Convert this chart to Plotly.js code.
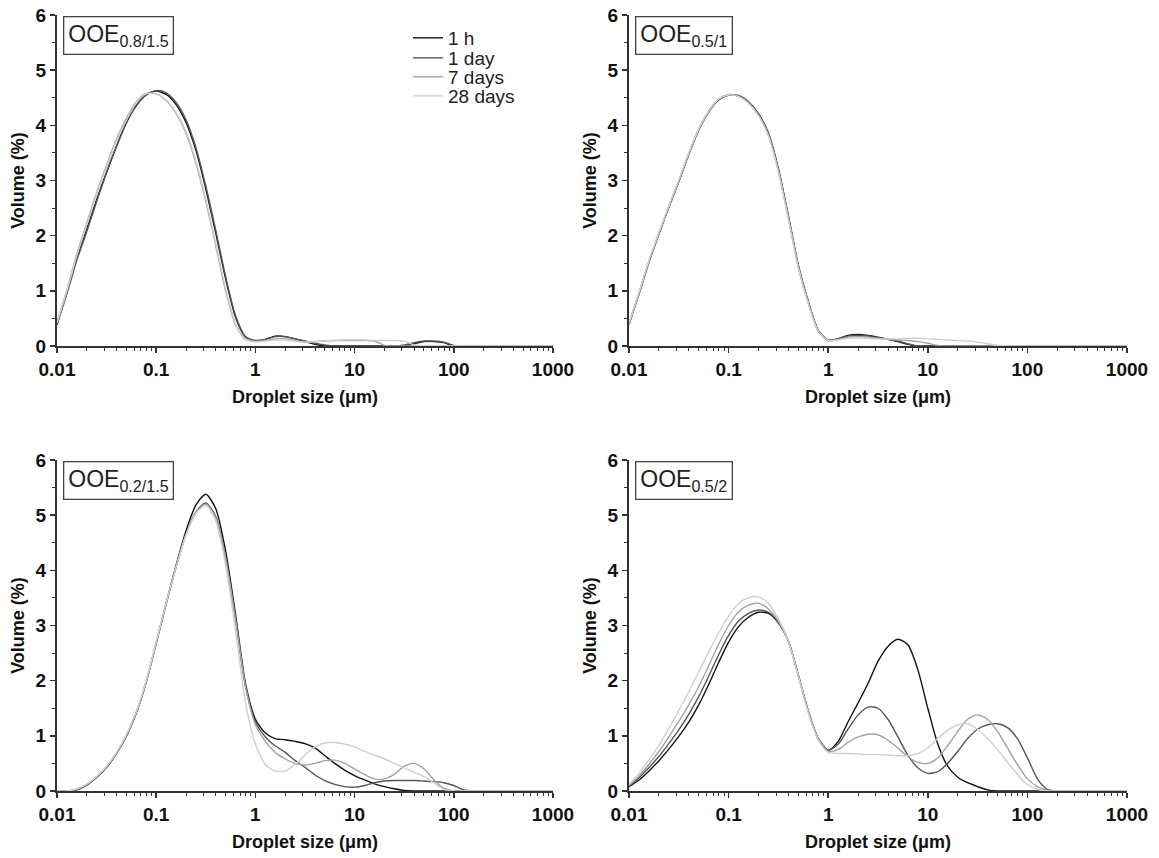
<!DOCTYPE html>
<html>
<head>
<meta charset="utf-8">
<script src="https://cdn.plot.ly/plotly-3.0.1.min.js"></script>
<style>
  html, body { margin: 0; padding: 0; background: #ffffff; }
  #chart { width: 1159px; height: 858px; }
</style>
</head>
<body>
<div id="chart"></div>
<script>
// Droplet size classes (µm), log-spaced
const sizes = [
  0.01, 0.0126, 0.0158, 0.02, 0.0251, 0.0316, 0.0398, 0.0501, 0.0631, 0.0794,
  0.1, 0.126, 0.158, 0.2, 0.251, 0.316, 0.398, 0.501, 0.631, 0.794,
  1, 1.26, 1.58, 2, 2.51, 3.16, 3.98, 5.01, 6.31, 7.94,
  10, 12.6, 15.8, 20, 25.1, 31.6, 39.8, 50.1, 63.1, 79.4,
  100, 126, 158, 200, 251, 316, 398, 501, 631, 794, 1000
];

const seriesNames = ['1 h', '1 day', '7 days', '28 days'];
const panelNames = ['OOE', 'OOE', 'OOE', 'OOE'];
const panelSubs = ['0.8/1.5', '0.5/1', '0.2/1.5', '0.5/2'];

const xTickVals = [0.01, 0.1, 1, 10, 100, 1000];
const xTickText = ['0.01', '0.1', '1', '10', '100', '1000'];
const yTickVals = [0, 1, 2, 3, 4, 5, 6];

// Panel 1: OOE 0.8/1.5  (Volume %)
const p1_1h = [
  0.40, 0.98, 1.58, 2.12, 2.65, 3.15, 3.62, 4.05, 4.36, 4.55,
  4.62, 4.56, 4.38, 4.05, 3.55, 2.85, 2.05, 1.22, 0.52, 0.16,
  0.09, 0.12, 0.18, 0.17, 0.13, 0.08, 0.03, 0, 0, 0,
  0, 0, 0, 0, 0, 0, 0.04, 0.08, 0.08, 0.06,
  0, 0, 0, 0, 0, 0, 0, 0, 0, 0, 0
];
const p1_1d = [
  0.38, 0.95, 1.55, 2.08, 2.62, 3.14, 3.62, 4.06, 4.37, 4.56,
  4.63, 4.59, 4.42, 4.10, 3.60, 2.90, 2.10, 1.26, 0.55, 0.17,
  0.10, 0.12, 0.17, 0.17, 0.13, 0.09, 0.05, 0.02, 0, 0,
  0, 0, 0, 0, 0, 0.02, 0.06, 0.09, 0.09, 0.07,
  0.01, 0, 0, 0, 0, 0, 0, 0, 0, 0, 0
];
const p1_7d = [
  0.42, 1.02, 1.66, 2.24, 2.78, 3.28, 3.75, 4.13, 4.43, 4.58,
  4.57, 4.45, 4.22, 3.85, 3.32, 2.62, 1.82, 1.00, 0.38, 0.12,
  0.08, 0.10, 0.13, 0.13, 0.10, 0.07, 0.08, 0.09, 0.10, 0.10,
  0.10, 0.10, 0.09, 0.01, 0, 0, 0, 0, 0, 0,
  0, 0, 0, 0, 0, 0, 0, 0, 0, 0, 0
];
const p1_28d = [
  0.42, 1.00, 1.63, 2.21, 2.75, 3.25, 3.72, 4.10, 4.41, 4.57,
  4.57, 4.46, 4.24, 3.88, 3.36, 2.66, 1.86, 1.04, 0.40, 0.13,
  0.08, 0.09, 0.11, 0.11, 0.09, 0.07, 0.08, 0.09, 0.10, 0.11,
  0.11, 0.11, 0.10, 0.10, 0.10, 0.09, 0.02, 0, 0, 0,
  0, 0, 0, 0, 0, 0, 0, 0, 0, 0, 0
];

// Panel 2: OOE 0.5/1
const p2_1h = [
  0.40, 0.95, 1.52, 2.04, 2.52, 2.98, 3.48, 3.92, 4.25, 4.47,
  4.55, 4.53, 4.42, 4.20, 3.85, 3.20, 2.35, 1.45, 0.80, 0.28,
  0.10, 0.13, 0.19, 0.21, 0.19, 0.16, 0.12, 0.08, 0.03, 0,
  0, 0, 0, 0, 0, 0, 0, 0, 0, 0,
  0, 0, 0, 0, 0, 0, 0, 0, 0, 0, 0
];
const p2_1d = [
  0.39, 0.94, 1.51, 2.03, 2.51, 2.98, 3.47, 3.91, 4.24, 4.46,
  4.55, 4.54, 4.43, 4.21, 3.86, 3.22, 2.37, 1.47, 0.81, 0.29,
  0.11, 0.13, 0.18, 0.19, 0.18, 0.15, 0.12, 0.09, 0.04, 0,
  0, 0, 0, 0, 0, 0, 0, 0, 0, 0,
  0, 0, 0, 0, 0, 0, 0, 0, 0, 0, 0
];
const p2_7d = [
  0.40, 0.96, 1.53, 2.05, 2.53, 3.00, 3.49, 3.93, 4.26, 4.48,
  4.56, 4.53, 4.41, 4.18, 3.82, 3.17, 2.32, 1.43, 0.78, 0.27,
  0.10, 0.12, 0.16, 0.17, 0.16, 0.14, 0.12, 0.11, 0.10, 0.08,
  0.05, 0.01, 0, 0, 0, 0, 0, 0, 0, 0,
  0, 0, 0, 0, 0, 0, 0, 0, 0, 0, 0
];
const p2_28d = [
  0.41, 0.97, 1.54, 2.06, 2.54, 3.01, 3.50, 3.94, 4.26, 4.48,
  4.55, 4.52, 4.40, 4.17, 3.81, 3.16, 2.31, 1.42, 0.77, 0.27,
  0.10, 0.11, 0.14, 0.15, 0.14, 0.13, 0.13, 0.13, 0.14, 0.14,
  0.13, 0.12, 0.11, 0.10, 0.09, 0.07, 0.04, 0.01, 0, 0,
  0, 0, 0, 0, 0, 0, 0, 0, 0, 0, 0
];

// Panel 3: OOE 0.2/1.5
const p3_1h = [
  0, 0, 0.02, 0.11, 0.25, 0.43, 0.68, 1.00, 1.42, 1.98,
  2.68, 3.40, 4.08, 4.72, 5.18, 5.38, 5.12, 4.35, 3.20, 1.95,
  1.30, 1.05, 0.95, 0.93, 0.90, 0.86, 0.78, 0.64, 0.50, 0.38,
  0.28, 0.20, 0.13, 0.08, 0.04, 0.01, 0, 0, 0, 0,
  0, 0, 0, 0, 0, 0, 0, 0, 0, 0, 0
];
const p3_1d = [
  0, 0, 0.02, 0.11, 0.25, 0.43, 0.68, 1.00, 1.42, 1.98,
  2.68, 3.39, 4.05, 4.66, 5.06, 5.22, 4.98, 4.25, 3.12, 1.90,
  1.25, 0.98, 0.82, 0.70, 0.55, 0.43, 0.29, 0.19, 0.12, 0.08,
  0.07, 0.10, 0.15, 0.18, 0.19, 0.19, 0.19, 0.18, 0.17, 0.15,
  0.10, 0.02, 0, 0, 0, 0, 0, 0, 0, 0, 0
];
const p3_7d = [
  0, 0, 0.03, 0.12, 0.26, 0.44, 0.69, 1.01, 1.43, 1.99,
  2.69, 3.40, 4.05, 4.66, 5.05, 5.20, 4.96, 4.22, 3.10, 1.90,
  1.20, 0.90, 0.70, 0.58, 0.50, 0.47, 0.50, 0.55, 0.56, 0.50,
  0.40, 0.30, 0.22, 0.22, 0.30, 0.45, 0.50, 0.40, 0.20, 0.05,
  0, 0, 0, 0, 0, 0, 0, 0, 0, 0, 0
];
const p3_28d = [
  0, 0, 0.04, 0.13, 0.27, 0.45, 0.70, 1.02, 1.44, 2.00,
  2.70, 3.41, 4.05, 4.64, 5.03, 5.18, 4.90, 4.10, 2.90, 1.60,
  0.85, 0.48, 0.36, 0.36, 0.48, 0.65, 0.80, 0.87, 0.88, 0.85,
  0.80, 0.72, 0.65, 0.58, 0.50, 0.42, 0.34, 0.26, 0.15, 0.03,
  0, 0, 0, 0, 0, 0, 0, 0, 0, 0, 0
];

// Panel 4: OOE 0.5/2
const p4_1h = [
  0.08, 0.20, 0.36, 0.55, 0.76, 0.99, 1.25, 1.56, 1.93, 2.33,
  2.70, 2.98, 3.15, 3.24, 3.22, 3.05, 2.72, 2.10, 1.45, 0.95,
  0.74, 0.90, 1.25, 1.60, 1.95, 2.35, 2.62, 2.75, 2.65, 2.20,
  1.50, 0.85, 0.45, 0.25, 0.15, 0.08, 0.02, 0, 0, 0,
  0, 0, 0, 0, 0, 0, 0, 0, 0, 0, 0
];
const p4_1d = [
  0.09, 0.24, 0.42, 0.63, 0.86, 1.11, 1.39, 1.71, 2.08, 2.47,
  2.82, 3.08, 3.22, 3.28, 3.24, 3.06, 2.72, 2.10, 1.45, 0.95,
  0.74, 0.85, 1.12, 1.38, 1.52, 1.50, 1.30, 0.98, 0.65, 0.42,
  0.32, 0.35, 0.50, 0.72, 0.95, 1.12, 1.20, 1.22, 1.15, 0.95,
  0.60, 0.22, 0.03, 0, 0, 0, 0, 0, 0, 0, 0
];
const p4_7d = [
  0.10, 0.27, 0.48, 0.72, 0.98, 1.26, 1.56, 1.89, 2.27, 2.66,
  3.00, 3.25, 3.37, 3.40, 3.30, 3.08, 2.72, 2.10, 1.45, 0.95,
  0.72, 0.75, 0.88, 0.98, 1.03, 1.02, 0.92, 0.78, 0.62, 0.52,
  0.50, 0.60, 0.82, 1.08, 1.30, 1.38, 1.30, 1.08, 0.78, 0.48,
  0.22, 0.08, 0.01, 0, 0, 0, 0, 0, 0, 0, 0
];
const p4_28d = [
  0.12, 0.32, 0.56, 0.83, 1.13, 1.46, 1.80, 2.16, 2.52, 2.86,
  3.17, 3.40, 3.50, 3.52, 3.40, 3.12, 2.72, 2.08, 1.42, 0.92,
  0.70, 0.68, 0.68, 0.67, 0.66, 0.66, 0.65, 0.64, 0.64, 0.68,
  0.78, 0.95, 1.10, 1.20, 1.22, 1.12, 0.95, 0.75, 0.52, 0.30,
  0.12, 0.03, 0, 0, 0, 0, 0, 0, 0, 0, 0
];

const panels = [
  [p1_1h, p1_1d, p1_7d, p1_28d],
  [p2_1h, p2_1d, p2_7d, p2_28d],
  [p3_1h, p3_1d, p3_7d, p3_28d],
  [p4_1h, p4_1d, p4_7d, p4_28d]
];

// ---- styles ----
const seriesColors = ['#111111', '#555555', '#a2a2a2', '#cfcfcf'];
const FONT = 'Arial, "Liberation Sans", Helvetica, sans-serif';
const W = 1159, H = 858;
// pixel geometry of the four plot areas [left, right, top, bottom]
const boxes = [
  [57, 553, 15, 346],
  [629, 1127, 15, 346],
  [57, 553, 460, 791],
  [629, 1127, 460, 791]
];
const legendIds = ['legend', 'legend2', 'legend3', 'legend4'];
const legendRowY = [38, 58, 77, 96];

const traces = [];
panels.forEach((series, p) => {
  const ax = p === 0 ? '' : String(p + 1);
  series.forEach((vals, s) => {
    traces.push({
      type: 'scatter',
      mode: 'lines',
      x: sizes,
      y: vals,
      name: seriesNames[s],
      xaxis: 'x' + ax,
      yaxis: 'y' + ax,
      showlegend: p === 0,
      legend: legendIds[s],
      line: { color: seriesColors[s], width: 1.4, shape: 'spline', smoothing: 0.7 },
      hoverinfo: 'x+y+name'
    });
  });
});

const layout = {
  width: W,
  height: H,
  margin: { l: 0, r: 0, t: 0, b: 0 },
  paper_bgcolor: '#ffffff',
  plot_bgcolor: '#ffffff',
  font: { family: FONT, color: '#111' },
  showlegend: true,
  annotations: []
};

legendIds.forEach((id, s) => {
  layout[id] = {
    x: 408 / W, y: (H - legendRowY[s]) / H, xanchor: 'left', yanchor: 'middle',
    bgcolor: 'rgba(0,0,0,0)', borderwidth: 0,
    font: { family: FONT, size: 19, color: '#222' },
    itemwidth: 30
  };
});

boxes.forEach((b, p) => {
  const ax = p === 0 ? '' : String(p + 1);
  layout['xaxis' + ax] = {
    type: 'log',
    range: [-2, 3],
    domain: [b[0] / W, b[1] / W],
    anchor: 'y' + ax,
    tickmode: 'array',
    tickvals: xTickVals,
    ticktext: xTickText,
    ticks: 'outside', ticklen: 5, tickwidth: 1.5, tickcolor: '#333',
    minor: { ticks: 'outside', ticklen: 3, tickwidth: 1, tickcolor: '#333', dtick: 'D1' },
    showline: true, linecolor: '#333', linewidth: 2,
    showgrid: false, zeroline: false,
    tickfont: { family: FONT, size: 19, color: '#111', weight: 'bold' },
    title: { text: 'Droplet size (\u03bcm)', font: { family: FONT, size: 18, color: '#111', weight: 'bold' }, standoff: 12 }
  };
  layout['yaxis' + ax] = {
    range: [0, 6],
    domain: [(H - b[3]) / H, (H - b[2]) / H],
    anchor: 'x' + ax,
    tickmode: 'array',
    tickvals: yTickVals,
    ticks: 'outside', ticklen: 5, tickwidth: 1.5, tickcolor: '#333',
    minor: { ticks: 'outside', ticklen: 3, tickwidth: 1, tickcolor: '#333', dtick: 0.5 },
    showline: true, linecolor: '#333', linewidth: 2,
    showgrid: false, zeroline: false,
    tickfont: { family: FONT, size: 19, color: '#111', weight: 'bold' },
    title: { text: 'Volume (%)', font: { family: FONT, size: 18, color: '#111', weight: 'bold' }, standoff: 6 }
  };
  layout.annotations.push({
    xref: 'paper', yref: 'paper',
    x: (b[0] + 6) / W, y: (H - b[2] - 1) / H,
    xanchor: 'left', yanchor: 'top',
    text: panelNames[p] + '<sub>' + panelSubs[p] + '</sub>',
    showarrow: false,
    font: { family: FONT, size: 23, color: '#222' },
    bordercolor: '#444', borderwidth: 1.3, borderpad: 4,
    bgcolor: '#ffffff'
  });
});

Plotly.newPlot('chart', traces, layout, { displayModeBar: false, staticPlot: true });
</script>
</body>
</html>
